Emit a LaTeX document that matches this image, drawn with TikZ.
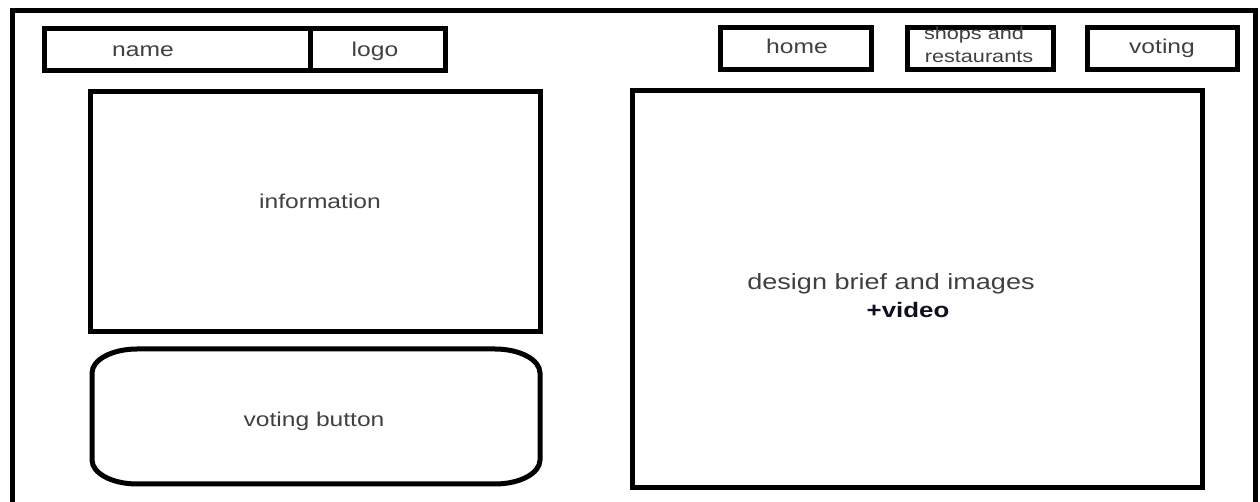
\documentclass[tikz,border=0pt]{standalone}
\usepackage{fontspec}
\usepackage{xcolor}
\usepackage{tikz}
\usetikzlibrary{positioning}
\newfontfamily\wirefont[FakeStretch=1.23]{Liberation Sans}
\definecolor{wiregray}{RGB}{64, 64, 64}
\definecolor{wireink}{RGB}{15, 15, 30}

\begin{document}
\begin{tikzpicture}[x=0.5pt, y=-0.5pt,
    panel/.style={line width=2.5pt, black},
    wiretext/.style={anchor=base, inner sep=0pt, text=wiregray,
        font=\wirefont\fontsize{10pt}{12pt}\selectfont}]
    \useasboundingbox (0,0) rectangle (1260,502);
    % page outline
    \draw[panel] (12,502) -- (12,11) -- (1255,11) -- (1255,502);
    % header bar
    \draw[panel] (44,29) rectangle (310,71);
    \draw[panel] (310,29) rectangle (445,71);
    \draw[panel] (720,28) rectangle (871,70);
    \draw[panel] (907,28) rectangle (1053,70);
    \draw[panel] (1087,28) rectangle (1237,70);
    \node[wiretext] (name) at (143,57) {name};
    \node[wiretext] (logo) at (375,57) {logo};
    \node[wiretext] (home) at (797,54) {home};
    \node[wiretext, font=\wirefont\fontsize{8.8pt}{10pt}\selectfont] (shops) at (974,40) {shops and};
    \node[wiretext, font=\wirefont\fontsize{8.8pt}{10pt}\selectfont] (restaurants) at (979,63) {restaurants};
    \node[wiretext] (voting) at (1162,54) {voting};
    % left column
    \draw[panel] (90,92) rectangle (540,332);
    \node[wiretext] (information) at (320,209) {information};
    \draw[panel] (137,349) -- (495,349)
        arc[start angle=-90, end angle=0, x radius=45, y radius=24] -- (540,460)
        arc[start angle=0, end angle=90, x radius=45, y radius=24] -- (137,484)
        arc[start angle=90, end angle=180, x radius=45, y radius=24] -- (92,373)
        arc[start angle=180, end angle=270, x radius=45, y radius=24] -- cycle;
    \node[wiretext] (button) at (314,427) {voting button};
    % right column
    \draw[panel] (632,91) rectangle (1202,488);
    \node[wiretext, font=\wirefont\fontsize{11pt}{13pt}\selectfont] (brief) at (891,290) {design brief and images};
    \node[wiretext, text=wireink, font=\wirefont\bfseries\fontsize{10.5pt}{13pt}\selectfont] (video) at (908,318) {+video};
\end{tikzpicture}
\end{document}
